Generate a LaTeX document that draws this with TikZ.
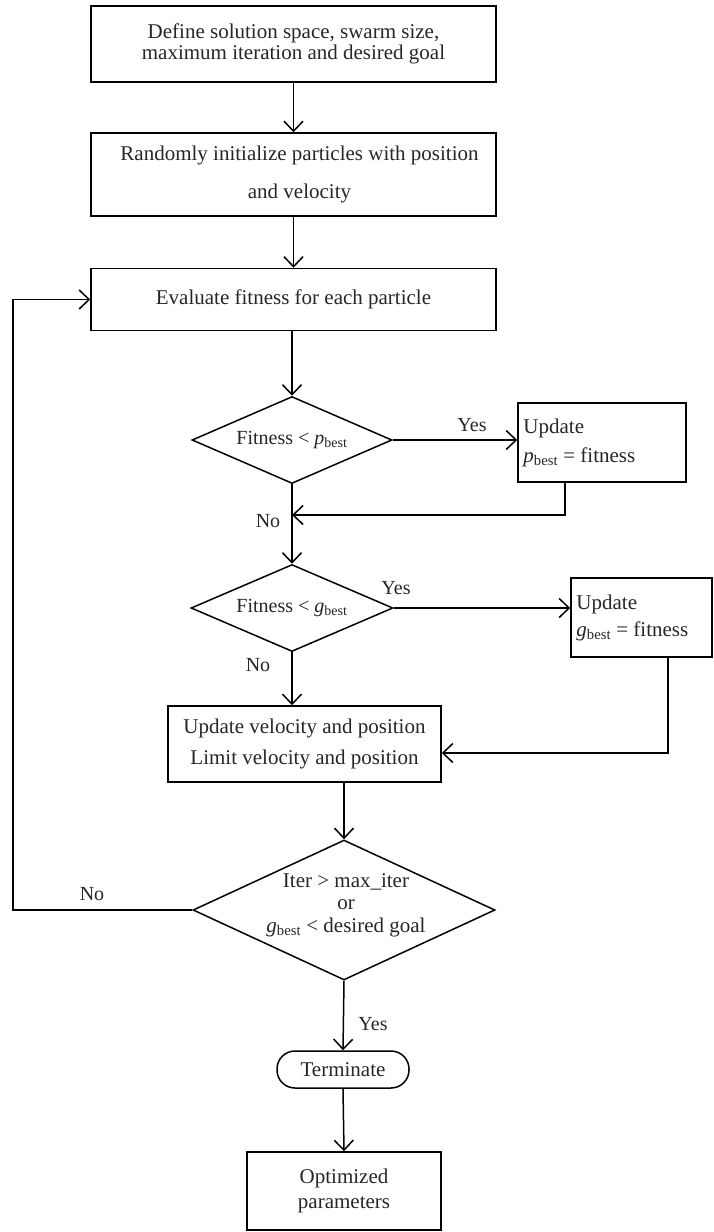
\documentclass[tikz,border=0pt]{standalone}
\usepackage{fontspec}
\setmainfont{Liberation Serif}
\usetikzlibrary{arrows.meta,shapes.geometric}
\newcommand{\pb}{\textit{p}\textsubscript{best}}
\newcommand{\gb}{\textit{g}\textsubscript{best}}
\begin{document}
\begin{tikzpicture}[x=1pt,y=-1pt,
  every node/.style={font=\fontsize{21}{21}\selectfont, text=black!85},
  box/.style={draw, line width=1.5pt, inner sep=0pt, align=center},
  dia/.style={draw, line width=1.5pt, shape=diamond, inner sep=0pt},
  term/.style={draw, line width=1.5pt, rounded corners=18pt, inner sep=0pt},
  line/.style={line width=1.5pt},
  arr/.style={line width=1.5pt, -{Straight Barb[length=10pt,width=19pt]}},
  lbl/.style={inner sep=0pt, font=\fontsize{20}{20}\selectfont}
]
\useasboundingbox (0,0) rectangle (713,1232);

\node[box, minimum width=405pt, minimum height=76pt] (b1) at (293.5,44)
  {Define solution space, swarm size,\\maximum iteration and desired goal};
\node[box, minimum width=405pt, minimum height=83pt,
  font=\fontsize{21}{38}\selectfont] (b2) at (293.5,174.5)
  {\hspace*{12pt}Randomly initialize particles with position\\\hspace*{12pt}and velocity};
\node[box, minimum width=405pt, minimum height=62pt] (b3) at (293.5,299.5)
  {Evaluate fitness for each particle};

\node[dia, minimum width=200pt, minimum height=87pt] (d1) at (292,440) {};
\node[lbl] (t1) at (d1) {Fitness < \pb};

\node[box, minimum width=168pt, minimum height=79pt] (pbox) at (602,442.5) {};
\node[inner sep=0pt, anchor=west, align=left, font=\fontsize{21}{29}\selectfont]
  (pt) at ([xshift=6pt]pbox.west) {Update\\\pb{} = fitness};

\node[dia, minimum width=202pt, minimum height=87pt] (d2) at (292,608) {};
\node[lbl] (t2) at (d2) {Fitness < \gb};

\node[box, minimum width=141pt, minimum height=79pt] (gbox) at (641.5,617.5) {};
\node[inner sep=0pt, anchor=west, align=left, font=\fontsize{21}{27}\selectfont]
  (gt) at ([xshift=6pt]gbox.west) {Update\\\gb{} = fitness};

\node[box, minimum width=273pt, minimum height=76pt,
  font=\fontsize{21}{31}\selectfont] (b4) at (304.5,744)
  {Update velocity and position\\Limit velocity and position};

\node[dia, minimum width=302pt, minimum height=140pt] (d3) at (344,910) {};
\node[inner sep=0pt, align=center, font=\fontsize{21}{22.5}\selectfont] (t3) at (346,905)
  {Iter > max\_iter\\or\\\gb{} < desired goal};

\node[term, minimum width=132pt, minimum height=37pt] (tm) at (343,1069.5) {Terminate};

\node[box, minimum width=194pt, minimum height=78pt,
  font=\fontsize{21}{25}\selectfont] (b5) at (344,1191)
  {Optimized\\parameters};

% connectors
\draw[arr] (b1.south) -- (b2.north);
\draw[arr] (b2.south) -- (b3.north);
\draw[arr] (d1.north |- b3.south) -- (d1.north);
\draw[arr] (d1.east) -- (d1.east -| pbox.west);
\node[lbl] (y1) at (472,425) {Yes};

\coordinate (j1) at (292,515);
\draw[arr] ([xshift=-37pt]pbox.south) |- (j1);
\draw[arr] (d1.south) -- (d2.north);
\node[lbl] (n1) at (268,521) {No};

\draw[arr] (d2.east) -- (d2.east -| gbox.west);
\node[lbl] (y2) at (396,588) {Yes};

\draw[arr] ([xshift=26.5pt]gbox.south) |- ([yshift=-9pt]b4.east);
\draw[arr] (d2.south) -- (d2.south |- b4.north);
\node[lbl] (n2) at (258,665) {No};

\draw[arr] (d3.north |- b4.south) -- (d3.north);

\coordinate (lp) at (13,910);
\draw[arr] (d3.west) -- (lp) |- (b3.west);
\node[lbl] (n3) at (92,894) {No};

\draw[arr] (d3.south) -- (tm.north);
\node[lbl] (y3) at (373,1024) {Yes};
\draw[arr] (tm.south) -- (b5.north);
\end{tikzpicture}
\end{document}
